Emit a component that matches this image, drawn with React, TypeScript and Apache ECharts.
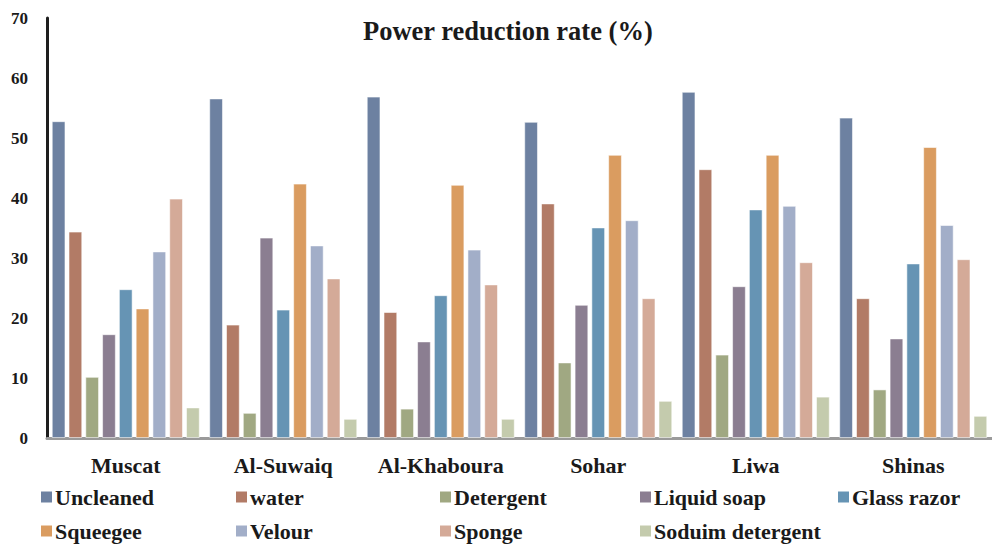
import React, { useEffect, useRef } from "react";
import * as echarts from "echarts";

const categories = ["Muscat", "Al-Suwaiq", "Al-Khaboura", "Sohar", "Liwa", "Shinas"];
const seriesNames = [
  "Uncleaned",
  "water",
  "Detergent",
  "Liquid soap",
  "Glass razor",
  "Squeegee",
  "Velour",
  "Sponge",
  "Soduim detergent",
];
const uncleaned = [52.8, 56.6, 56.9, 52.7, 57.7, 53.4];
const water = [34.4, 18.9, 21.0, 39.1, 44.8, 23.3];
const detergent = [10.2, 4.2, 4.9, 12.6, 13.9, 8.1];
const liquidSoap = [17.3, 33.4, 16.1, 22.2, 25.3, 16.6];
const glassRazor = [24.8, 21.4, 23.8, 35.1, 38.1, 29.1];
const squeegee = [21.6, 42.4, 42.2, 47.2, 47.2, 48.5];
const velour = [31.1, 32.1, 31.4, 36.3, 38.7, 35.5];
const sponge = [39.9, 26.6, 25.6, 23.3, 29.3, 29.8];
const soduimDetergent = [5.1, 3.2, 3.2, 6.2, 6.9, 3.7];
const seriesValues = [
  uncleaned,
  water,
  detergent,
  liquidSoap,
  glassRazor,
  squeegee,
  velour,
  sponge,
  soduimDetergent,
];
const colors = [
  "#6d81a1",
  "#b27b66",
  "#a0a882",
  "#8b7e91",
  "#6694b4",
  "#da9c60",
  "#a2aec8",
  "#d4aa98",
  "#c4cbad",
];
const yTicks = { min: 0, max: 70, interval: 10 };

// legend item anchor: [square left x, row centre y]
const legendPos = [
  [41, 497],
  [236, 497],
  [440, 497],
  [640, 497],
  [838, 497],
  [41, 531],
  [236, 531],
  [440, 531],
  [640, 531],
];

const FONT = "'Liberation Serif', 'Times New Roman', Times, serif";

export default function App() {
  const ref = useRef<HTMLDivElement>(null);
  useEffect(() => {
    document.body.style.margin = "0";
    if (!ref.current) return;
    const chart = echarts.init(ref.current, null, { renderer: "svg" });
    const legendGraphics: any[] = [];
    seriesNames.forEach((name, i) => {
      const [x, y] = legendPos[i];
      legendGraphics.push({
        type: "rect",
        shape: { x, y: y - 5.5, width: 11, height: 11 },
        style: { fill: colors[i] },
      });
      legendGraphics.push({
        type: "text",
        x: x + 14,
        y,
        style: {
          text: name,
          fill: "#1a1a1a",
          font: `bold 22px ${FONT}`,
          textAlign: "left",
          textVerticalAlign: "middle",
        },
      });
    });
    chart.setOption({
      animation: false,
      backgroundColor: "#ffffff",
      textStyle: { fontFamily: FONT },
      title: {
        text: "Power reduction rate (%)",
        left: 363,
        top: 17,
        padding: 0,
        textStyle: { fontFamily: FONT, fontWeight: "bold", fontSize: 26.5, color: "#1a1a1a" },
      },
      graphic: legendGraphics,
      grid: { left: 47, top: 18, width: 951, height: 420, containLabel: false },
      xAxis: {
        type: "category",
        data: categories,
        axisLine: { lineStyle: { color: "#9a9a9a", width: 3 } },
        axisTick: { show: false },
        axisLabel: {
          interval: 0,
          margin: 16,
          fontFamily: FONT,
          fontWeight: "bold",
          fontSize: 22,
          color: "#1a1a1a",
        },
      },
      yAxis: {
        type: "value",
        min: yTicks.min,
        max: yTicks.max,
        interval: yTicks.interval,
        axisLine: { show: true, lineStyle: { color: "#1e1e1e", width: 3 } },
        axisTick: { show: false },
        splitLine: { show: false },
        axisLabel: {
          margin: 19,
          fontFamily: FONT,
          fontWeight: "bold",
          fontSize: 17,
          color: "#1a1a1a",
        },
      },
      series: seriesNames.map((name, i) => ({
        name,
        type: "bar",
        data: seriesValues[i],
        barGap: "22%",
        barCategoryGap: "6%",
        itemStyle: {
          color: colors[i],
          borderColor: "rgba(255,255,255,0.55)",
          borderWidth: 1,
        },
      })),
    });
    return () => chart.dispose();
  }, []);
  return <div ref={ref} style={{ width: 992, height: 544 }} />;
}
